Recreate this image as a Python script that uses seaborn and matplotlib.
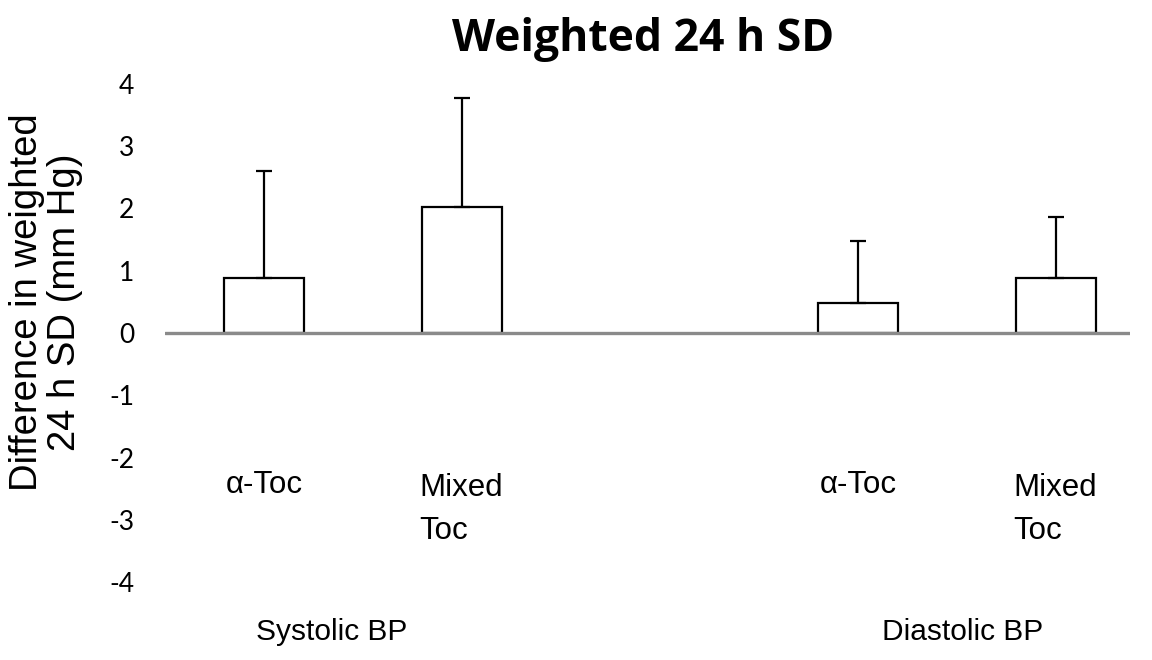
import matplotlib
matplotlib.use("Agg")
import matplotlib.pyplot as plt
import seaborn as sns
import pandas as pd

# ---- data ----
groups = ["Systolic BP", "Systolic BP", "Diastolic BP", "Diastolic BP"]
treatments = ["\u03b1-Toc", "Mixed\nToc", "\u03b1-Toc", "Mixed\nToc"]
positions = [0, 1, 3, 4]
values = [0.88, 2.03, 0.48, 0.88]
upper_err = [1.72, 1.74, 0.99, 0.98]
group_labels = ["Systolic BP", "Diastolic BP"]
group_label_x = [0.34, 3.53]
y_ticks = [-4, -3, -2, -1, 0, 1, 2, 3, 4]

df = pd.DataFrame({"pos": positions, "value": values, "group": groups,
                   "treatment": treatments})

sns.set_theme(style="white")
plt.rcParams["font.family"] = ["Liberation Sans", "DejaVu Sans"]
plt.rcParams["text.color"] = "black"
plt.rcParams["axes.labelcolor"] = "black"
plt.rcParams["ytick.color"] = "black"

fig = plt.figure(figsize=(11.52, 6.6), dpi=100)
ax = fig.add_axes([165 / 1152, 1 - 582 / 660, (1130 - 165) / 1152, (582 - 84) / 660])

sns.barplot(data=df, x="pos", y="value", native_scale=True, width=0.4,
            color="white", edgecolor="black", linewidth=1.6, ax=ax, errorbar=None)
ax.errorbar(df["pos"], df["value"], yerr=[[0] * len(upper_err), upper_err],
            fmt="none", ecolor="black", elinewidth=1.6, capsize=6, capthick=1.6,
            zorder=1)
ax.axhline(0, color="#8a8a8a", lw=2.4, zorder=3)

ax.set_xlim(-0.5, 4.374)
ax.set_ylim(-4, 4)
ax.set_yticks(y_ticks)
ax.set_yticklabels([str(t) for t in y_ticks], fontfamily="Lato", fontsize=19)
ax.tick_params(axis="y", length=0, pad=22)
ax.set_xticks([])
ax.set_xlabel("")
ax.set_ylabel("")
for s in ax.spines.values():
    s.set_visible(False)

fig.text(46 / 1152, 1 - 302 / 660, "Difference in weighted\n24 h SD (mm Hg)",
         rotation=90, ha="center", va="center", fontsize=27.5, linespacing=1.05)

for p, t in zip(positions, treatments):
    if "\n" in t:
        ax.text(p - 0.215, -2.25, t, ha="left", va="top", fontsize=22.5,
                linespacing=1.55)
    else:
        ax.text(p, -2.44, t, ha="center", va="center", fontsize=22.5)

for gx, g in zip(group_label_x, group_labels):
    ax.text(gx, -4.8, g, ha="center", va="center", fontsize=21.5)

fig.text(643 / 1152, 1 - 40 / 660, "Weighted 24 h SD", ha="center", va="center",
         fontsize=32, fontweight="bold", fontfamily="Open Sans")

fig.savefig("out.png", dpi=100)
